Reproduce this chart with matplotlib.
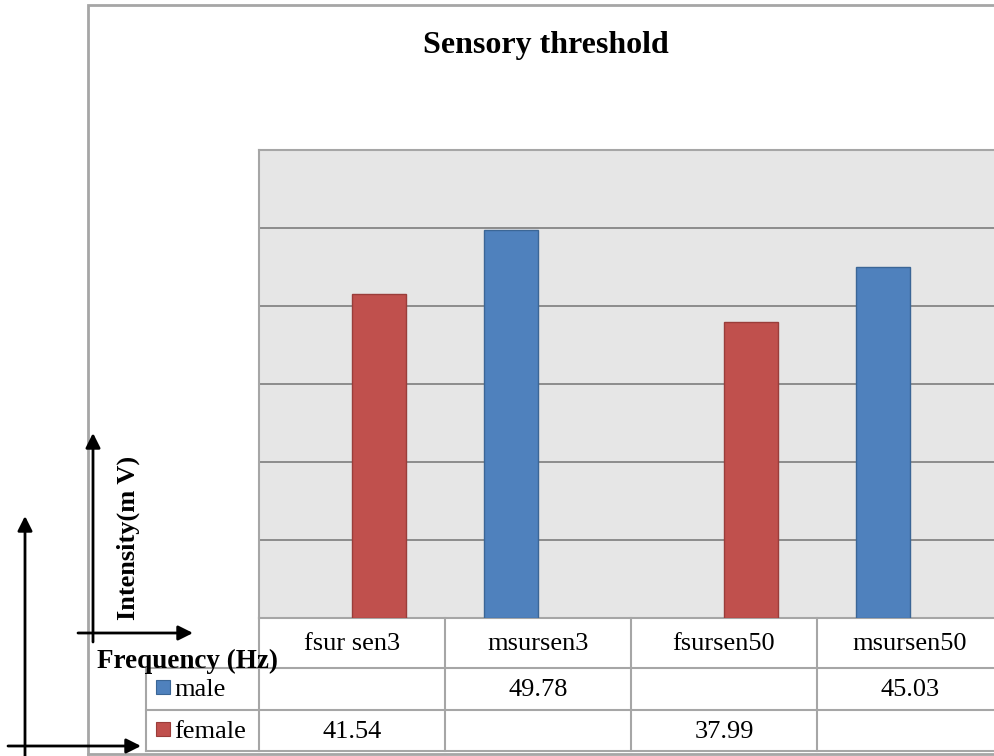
import numpy as np
import matplotlib
matplotlib.use("Agg")
import matplotlib.pyplot as plt
import matplotlib.transforms as mtransforms
from matplotlib.patches import Rectangle

# ---- data ----
categories = ["fsur sen3", "msursen3", "fsursen50", "msursen50"]
series_names = ["male", "female"]
male = [None, 49.78, None, 45.03]
female = [41.54, None, 37.99, None]
y_ticks = [0, 10, 20, 30, 40, 50, 60]
title = "Sensory threshold"
y_label = "Intensity(m V)"
x_label = "Frequency (Hz)"

colors = {"male": "#4F81BD", "female": "#C0504D"}
edges = {"male": "#3B6696", "female": "#9A3D3A"}
grid_col = "#8C8C8C"
frame_col = "#A6A6A6"

plt.rcParams["font.family"] = ["Liberation Serif", "DejaVu Serif"]

W, H = 994, 756
fig = plt.figure(figsize=(W / 100, H / 100), dpi=100)
fig.patch.set_facecolor("white")

# plot area (extends beyond the right edge like the cropped original)
pl, pr, pt, pb = 259, 1003, 150, 618
ax = fig.add_axes([pl / W, (H - pb) / H, (pr - pl) / W, (pb - pt) / H], zorder=1)
ax.set_facecolor("#E6E6E6")
ax.set_xlim(-0.5, len(categories) - 0.5)
ax.set_ylim(y_ticks[0], y_ticks[-1])
ax.set_yticks(y_ticks)
ax.set_xticks([])
ax.tick_params(length=0, labelleft=False, labelbottom=False)
ax.yaxis.grid(True, color=grid_col, linewidth=1.4)
ax.set_axisbelow(True)
for sp in ax.spines.values():
    sp.set_color(frame_col)
    sp.set_linewidth(1.5)

x = np.arange(len(categories))
bw = 0.29
male_v = np.array([np.nan if v is None else v for v in male], dtype=float)
female_v = np.array([np.nan if v is None else v for v in female], dtype=float)
ax.bar(x - bw / 2, male_v, bw, color=colors["male"], edgecolor=edges["male"], linewidth=1.0, zorder=3)
ax.bar(x + bw / 2, female_v, bw, color=colors["female"], edgecolor=edges["female"], linewidth=1.0, zorder=3)

# overlay in pixel coordinates for frame, table, arrows, texts
ov = fig.add_axes([0, 0, 1, 1], zorder=2)
ov.set_xlim(0, W)
ov.set_ylim(H, 0)
ov.axis("off")
ov.patch.set_visible(False)

# outer chart frame
ov.plot([88, 88, W + 5], [754, 5, 5], color=frame_col, lw=2.0, solid_joinstyle="miter")
ov.plot([88, W + 5], [754, 754], color=frame_col, lw=2.0)

blend = mtransforms.blended_transform_factory(ax.transData, ov.transData)

# data table
row_header_y, row_male_y, row_fem_y, row_end = pb, 668, 710, 751
leg_left = 146
bounds = np.arange(len(categories) + 1) - 0.5
for b in bounds:
    ov.plot([b, b], [row_header_y, row_end], color=frame_col, lw=1.5, transform=blend, clip_on=False)
ov.plot([leg_left, leg_left], [row_male_y, row_end], color=frame_col, lw=1.5)
for yy in (row_male_y, row_fem_y, row_end):
    ov.plot([leg_left, W + 5], [yy, yy], color=frame_col, lw=1.5)

fs_tab = 19
for i, c in enumerate(categories):
    ov.text(i, (row_header_y + row_male_y) / 2 + 1, c, transform=blend, ha="center", va="center",
            fontsize=fs_tab, color="black")
    if not np.isnan(male_v[i]):
        ov.text(i, (row_male_y + row_fem_y) / 2 + 1, f"{male_v[i]:.2f}", transform=blend,
                ha="center", va="center", fontsize=fs_tab, color="black")
    if not np.isnan(female_v[i]):
        ov.text(i, (row_fem_y + row_end) / 2 + 1, f"{female_v[i]:.2f}", transform=blend,
                ha="center", va="center", fontsize=fs_tab, color="black")

# legend keys in the table
for name, yc in (("male", (row_male_y + row_fem_y) / 2), ("female", (row_fem_y + row_end) / 2)):
    ov.add_patch(Rectangle((156, yc - 9), 14, 14, facecolor=colors[name], edgecolor=edges[name], lw=0.8))
    ov.text(174, yc + 1, name, ha="left", va="center", fontsize=fs_tab, color="black")

# title and axis captions
ov.text(546, 45, title, ha="center", va="center", fontsize=23, fontweight="bold", color="black")
ov.text(97, 661, x_label, ha="left", va="center", fontsize=19.5, fontweight="bold", color="black")
ov.text(128, 538, y_label, ha="center", va="center", rotation=90, fontsize=19,
        fontweight="bold", color="black")

# hand-drawn arrows
ap = dict(arrowstyle="-|>", lw=2.0, color="black", mutation_scale=22, shrinkA=0, shrinkB=0)
ov.annotate("", xy=(93, 433), xytext=(93, 642), arrowprops=ap)
ov.annotate("", xy=(193, 633), xytext=(78, 633), arrowprops=ap)
ov.annotate("", xy=(25, 516), xytext=(25, 760), arrowprops=ap)
ov.annotate("", xy=(141, 746), xytext=(8, 746), arrowprops=ap)

fig.savefig("out.png", dpi=100)
